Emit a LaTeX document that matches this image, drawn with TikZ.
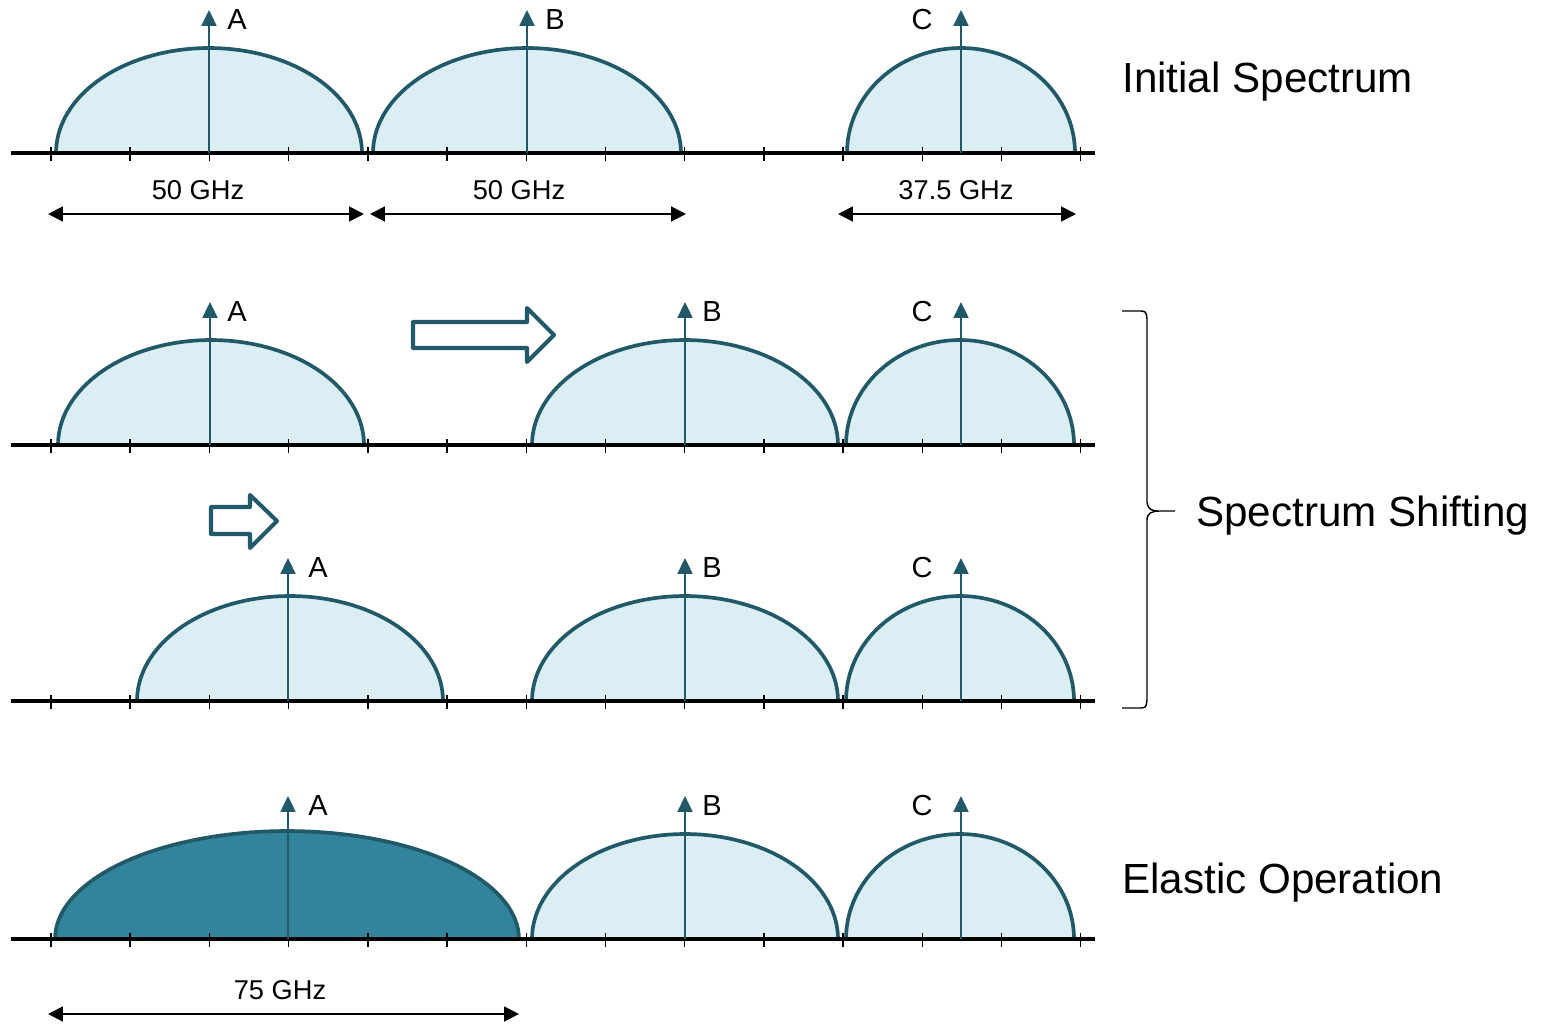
\documentclass[tikz,border=0pt]{standalone}
\usepackage{fontspec}
\setmainfont{Liberation Sans}
\usetikzlibrary{arrows.meta}

\definecolor{chline}{HTML}{215968}
\definecolor{chfill}{HTML}{DAEEF3}
\definecolor{chdark}{HTML}{31849B}

\begin{document}
\begin{tikzpicture}[x=0.02cm,y=-0.02cm,
  hump/.style={draw=chline,line width=2.1pt,fill=chfill},
  carrier/.style={draw=chline,line width=1.1pt,-{Triangle[length=9pt,width=8.5pt]}},
  axisline/.style={line width=2.3pt},
  tickmark/.style={line width=0.8pt},
  dimline/.style={line width=1.1pt,{Triangle[length=8.5pt,width=8.5pt]}-{Triangle[length=8.5pt,width=8.5pt]}},
  lbl/.style={font=\fontsize{15.5}{18}\selectfont,inner sep=0pt},
  carlbl/.style={font=\fontsize{16.5}{19}\selectfont,inner sep=0pt},
  captxt/.style={font=\fontsize{24}{28}\selectfont,anchor=west,inner sep=0pt},
  shiftarrow/.style={draw=chline,line width=2.3pt,line join=round,fill=white}]
  \useasboundingbox[fill=white] (0,0) rectangle (1544,1024);

  % channels
  \foreach \c/\r/\h/\a in {209/153/105/153,527/154/105/153,961/114/105/153,
                           211/153/105/445,685/153/105/445,960/114/105/445,
                           290/153/105/701,685/153/105/701,960/114/105/701,
                           685/153/105/939,960/114/105/939}
    \draw[hump] plot[domain=180:0,samples=72,variable=\t] ({\c+\r*cos(\t)},{\a-\h*sin(\t)}) -- cycle;
  \draw[hump,fill=chdark] plot[domain=180:0,samples=72,variable=\t] ({287+232*cos(\t)},{939-108*sin(\t)}) -- cycle;

  % frequency axes
  \foreach \a in {153,445,701,939}
  {
    \draw[axisline] (11,\a) -- (1095,\a);
    \foreach \k in {0,...,13}
      \draw[tickmark] ({51+79.2*\k},\a-6) -- ({51+79.2*\k},\a+8);
  }

  % carriers
  \foreach \i/\c/\a/\tip/\lx/\n in {1/209/153/10/237/A,2/527/153/10/555/B,3/961/153/10/922/C,
                                    4/210/445/302/237/A,5/685/445/302/712/B,6/961/445/302/922/C,
                                    7/288/701/558/318/A,8/685/701/558/712/B,9/961/701/558/922/C,
                                    10/288/939/796/318/A,11/685/939/796/712/B,12/961/939/796/922/C}
  {
    \coordinate (f\i) at (\c,\a);
    \coordinate (t\i) at (\c,\tip);
    \draw[carrier] (f\i) -- (t\i);
    \node[carlbl] (n\i) at (\lx,\tip+10) {\n};
  }

  % bandwidths
  \foreach \i/\l/\r/\y/\m/\w in {1/48/364/214/198/50,2/370/686/214/519/50,3/838/1076/214/956/37.5,4/48/519/1014/280/75}
  {
    \coordinate (dl\i) at (\l,\y);
    \coordinate (dr\i) at (\r,\y);
    \draw[dimline] (dl\i) -- (dr\i);
    \node[lbl] (bw\i) at (\m,\y-24) {\w{} GHz};
  }

  % shifting arrows
  \draw[shiftarrow] (413,322) -- (527,322) -- (527,308) -- (554,335) -- (527,362) -- (527,348) -- (413,348) -- cycle;
  \draw[shiftarrow] (211,507) -- (250,507) -- (250,495) -- (277,521) -- (250,548) -- (250,534) -- (211,534) -- cycle;

  % brace
  \draw[line width=0.8pt] (1122,311) -- (1138,311) .. controls (1146,311) .. (1147,319) -- (1147,502)
    .. controls (1148,510) and (1152,511) .. (1160,511) -- (1175,511)
    (1160,511) .. controls (1152,511) and (1147,513) .. (1147,520) -- (1147,700)
    .. controls (1146,708) .. (1138,708) -- (1122,708);

  \node[captxt] (init) at (1122,82) {Initial Spectrum};
  \node[captxt] (shifting) at (1196,516) {Spectrum Shifting};
  \node[captxt] (elastic) at (1122,883) {Elastic Operation};
\end{tikzpicture}
\end{document}
